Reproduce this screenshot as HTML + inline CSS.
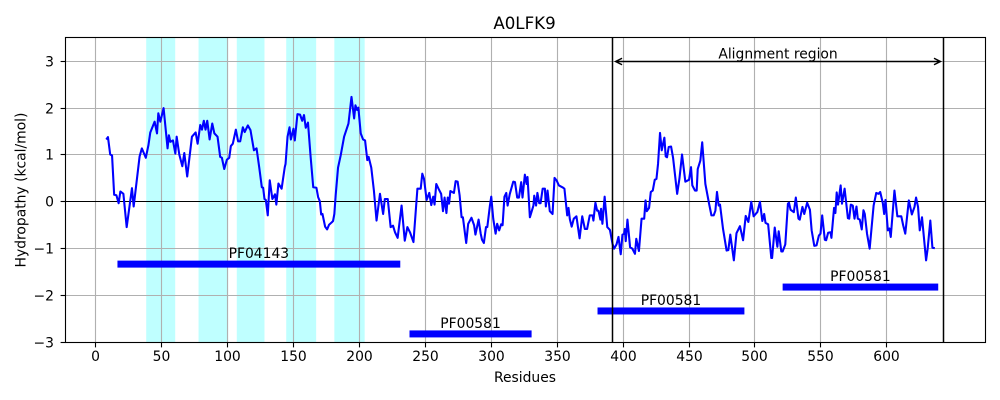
<!DOCTYPE html>
<html>
<head>
<meta charset="utf-8">
<title>A0LFK9</title>
<style>
html,body{margin:0;padding:0;background:#fff;}
svg{display:block;}
text{font-family:"DejaVu Sans","Liberation Sans",sans-serif;fill:#000;}
</style>
</head>
<body>
<svg id="chart" xmlns="http://www.w3.org/2000/svg" width="1000" height="400" viewBox="0 0 1000 400"></svg>
<script>
const residues = [8,9.3,11,12.4,14,15.7,17.4,18.7,21,23.5,27.5,28.8,33.3,35,38,40,41.4,44.7,46.5,47.5,49,51.5,54.5,55.5,56.6,58.6,60.4,61.4,63.4,65.7,67.2,69.4,73,75.8,77.3,79.3,80.6,82,83.3,84.6,86.4,88.4,90,92.4,94.4,95.7,97.5,99.5,101.3,102.5,104,106.3,108,109.6,111.6,113,115.4,117.4,120,122,124,126,127,128,129,130.5,132,134,136,137,138.6,141,143.4,144,145.5,147,148,150,151,153,155,156.6,158,159.3,161,163,165,167.4,168.7,170,171,172,174,175.5,177,179,180,181,182,183.8,185.8,188.4,191.7,194,196,197,198.2,199.2,201,202.8,204.3,206,207,209,211,213,215.6,218,219.3,221.5,223.7,225.5,227,229,232,234.4,236.4,238.5,241,244,246.5,247.7,249,251,253,254.5,256,257,258.3,260,262,263.4,264.6,266,267,268,269,271.7,273,274.5,276,277.5,278.5,281,282.5,285,287,288,290.4,292,293,294.4,296,297,299,300,301.5,303.3,304.5,306,307.5,308.6,310,311.4,312.4,314,316.7,318,319.7,321,322.7,323.7,325.5,326.8,327.5,329.3,332,332.6,334,335,336.4,337.4,339,340.7,341.4,342.7,344.4,346.5,348,349.5,351.3,354,355.5,357.6,358.6,359.6,361,362.6,364.6,367,369,371,372.7,374.7,376.8,377.5,379,380.3,381.3,382.8,383.3,384.3,386,388,390,392,393.2,395,396.5,398.2,399.5,400.8,401.3,402,403.3,405.3,407,409,410,412,414,416,417,418,419.7,421,422.5,424,425.3,426.5,428,429.3,431.3,432.3,433.3,434.6,436.4,437.9,441,442.7,444.7,447.2,450,451.5,452.5,454.5,455.8,456.6,458.6,460,462.4,465.2,467,468.7,470,471.2,472.5,473.5,475.8,478.5,479.8,481.3,484,486,488.6,491,493,495,497.2,499,501.8,503.8,505.6,507,508,510,512.4,513,515,517,518,520,521,523,525,525.8,527,529.5,531,533,534,536,537.4,539.6,541.7,543,545,546.7,548.5,549.7,551,553,554,555.5,557.3,558,560,561,562,563,565,566,568,570.5,571.5,572.7,574.2,575.5,577,578,579.5,581,582.3,583.3,585,587,590,592,593.7,595,597,598,599,600.8,602,603,605.8,608,611,612.4,614,616.7,619,621,622.2,623.7,625,626.7,629.8,631,633,634.6,636.4];
const hydropathy = [1.33,1.38,1.01,0.99,0.15,0.14,-0.03,0.22,0.17,-0.54,0.29,-0.1,0.97,1.14,0.94,1.21,1.48,1.71,1.46,1.89,1.71,2.0,1.14,1.42,1.28,1.31,1.03,1.39,1.01,0.76,1.04,0.54,1.39,1.48,1.24,1.64,1.54,1.73,1.54,1.73,1.33,1.67,1.46,1.39,0.96,0.94,0.7,0.9,0.94,1.19,1.24,1.54,1.29,1.29,1.59,1.49,1.63,1.53,1.1,1.14,0.74,0.31,0.3,0.06,0.04,-0.29,0.46,0.06,0.16,-0.06,0.39,0.28,0.74,0.81,1.39,1.59,1.33,1.56,1.31,1.87,1.86,1.73,1.85,1.58,1.69,0.96,0.31,0.3,0.1,0.01,-0.27,-0.26,-0.53,-0.59,-0.49,-0.44,-0.41,-0.26,0.14,0.73,0.99,1.39,1.67,2.24,1.78,2.06,1.96,2.01,1.46,1.33,1.31,0.89,0.96,0.73,0.24,-0.4,0.17,-0.26,0.06,0.06,-0.54,-0.51,-0.65,-0.77,-0.08,-0.83,-0.54,-0.66,-0.86,0.28,0.28,0.6,0.49,0.04,0.19,-0.07,0.11,-0.06,0.38,0.28,0.17,-0.2,0.09,-0.24,0.09,-0.04,0.23,0.19,0.44,0.43,0.14,-0.33,-0.33,-0.88,-0.47,-0.34,-0.5,-0.7,-0.38,-0.68,-0.81,-0.88,-0.54,-0.54,-0.08,0.11,-0.36,-0.68,-0.47,-0.61,-0.48,-0.5,0.11,0.19,-0.08,0.16,0.43,0.42,0.09,0.09,0.42,0.09,0.58,0.38,0.53,-0.33,-0.08,0.13,-0.08,0.19,-0.03,-0.03,0.28,0.28,-0.1,0.24,-0.2,-0.26,0.51,0.46,0.35,0.31,0.28,-0.29,-0.13,-0.37,-0.53,-0.36,-0.31,-0.78,-0.31,-0.58,-0.58,-0.29,-0.29,-0.4,-0.02,-0.19,-0.19,-0.38,-0.15,-0.47,0.11,-0.54,-0.6,-0.9,-1.0,-0.91,-0.75,-1.12,-0.7,-0.68,-0.58,-0.84,-0.38,-0.97,-1.0,-1.11,-0.79,-1.05,-0.36,-0.36,0.03,-0.2,-0.13,0.21,0.24,0.47,0.49,0.81,1.47,1.1,1.37,0.97,0.95,1.17,1.18,0.94,0.17,0.49,1.01,0.43,0.47,0.74,0.35,0.24,0.24,0.7,0.88,1.27,0.38,-0.04,-0.29,-0.29,-0.19,0.21,-0.08,-0.06,-0.58,-1.04,-1.03,-0.7,-1.25,-0.67,-0.52,-0.82,-0.3,-0.43,0,-0.31,-0.22,0,-0.41,-0.26,-0.45,-0.48,-1.2,-1.2,-0.55,-0.96,-0.63,-1.06,-1.06,-0.91,-0.04,-0.02,-0.17,-0.22,0.09,-0.36,-0.38,-0.11,-0.26,-0.02,-0.17,-0.61,-0.94,-0.93,-0.72,-0.68,-0.29,-0.81,-0.82,-0.66,-0.65,-0.77,-0.13,-0.24,0.2,-0.06,0.35,-0.04,0.28,-0.35,-0.36,-0.06,-0.08,-0.36,-0.1,-0.36,-0.38,-0.59,-0.18,-0.26,-0.68,-1.0,-0.08,0.19,0.17,0.21,-0.03,-0.26,0.04,-0.61,-0.57,-0.75,0.24,-0.31,-0.31,-0.5,-0.68,0.03,-0.27,-0.11,0.09,-0.11,-0.61,-0.33,-1.25,-1.0,-0.4,-0.98,-0.99];
const xTicks = [0,50,100,150,200,250,300,350,400,450,500,550,600];
const yTicks = [-3,-2,-1,0,1,2,3];
const helixStarts = [38.3,78,107,144.5,181];
const helixEnds = [60.3,100.5,128,167.2,204];
const domainNames = ["PF04143","PF00581","PF00581","PF00581"];
const domainStarts = [16.5,238,380.6,521];
const domainEnds = [231,330.6,492,639];
const domainLevels = [-1.33,-2.82,-2.33,-1.82];
const alignmentStart = 392;
const alignmentEnd = 643;
const alignmentLevel = 3;

const plot = {left:65.5, right:985.5, top:38, bottom:342.5};
const xScale = v => 95.7 + 1.3185 * v;
const yScale = v => 201.8 - 46.85 * v;
const snap = p => Math.floor(p) + 0.5;
const svg = document.getElementById('chart');
const NS = 'http://www.w3.org/2000/svg';
function make(tag, attrs, txt) {
  const el = document.createElementNS(NS, tag);
  for (const k in attrs) el.setAttribute(k, attrs[k]);
  if (txt !== undefined) el.textContent = txt;
  svg.appendChild(el);
  return el;
}
let el;

helixStarts.forEach((s, i) => {
  el = make('rect', {x:xScale(s), y:plot.top, width:xScale(helixEnds[i])-xScale(s), height:plot.bottom-plot.top, fill:'#bfffff'});
  
  
});

xTicks.forEach(t => {
  const px = snap(xScale(t));
  el = make('line', {x1:px, x2:px, y1:plot.top, y2:plot.bottom, stroke:'#b0b0b0', 'stroke-width':1.11});
  
  
  el = make('line', {x1:px, x2:px, y1:plot.bottom, y2:plot.bottom+4.9, stroke:'#000', 'stroke-width':1.11});
  
  
  el = make('text', {x:px, y:361, 'text-anchor':'middle', 'font-size':'13.89px'}, String(t));
  
  
});

yTicks.forEach(t => {
  const py = snap(yScale(t));
  el = make('line', {x1:plot.left, x2:plot.right, y1:py, y2:py, stroke:'#b0b0b0', 'stroke-width':1.11});
  
  
  el = make('line', {x1:plot.left-4.9, x2:plot.left, y1:py, y2:py, stroke:'#000', 'stroke-width':1.11});
  
  
  el = make('text', {x:54, y:py+5, 'text-anchor':'end', 'font-size':'13.89px'}, String(t).replace('-', '\u2212'));
  
  
});

el = make('line', {x1:plot.left, x2:plot.right, y1:snap(yScale(0)), y2:snap(yScale(0)), stroke:'#000', 'stroke-width':1.11});



el = make('polyline', {points:residues.map((r, i) => xScale(r).toFixed(2) + ',' + yScale(hydropathy[i]).toFixed(2)).join(' '), fill:'none', stroke:'#0000ff', 'stroke-width':2.08, 'stroke-linejoin':'round'});



domainNames.forEach((n, i) => {
  el = make('rect', {x:xScale(domainStarts[i]), y:yScale(domainLevels[i])-3.5, width:xScale(domainEnds[i])-xScale(domainStarts[i]), height:7, fill:'#0000ff'});
  
  
  el = make('text', {x:(xScale(domainStarts[i])+xScale(domainEnds[i]))/2, y:yScale(domainLevels[i])-6, 'text-anchor':'middle', 'font-size':'13.89px'}, n);
  
  
});

[alignmentStart, alignmentEnd].forEach((r, i) => {
  const px = snap(xScale(r));
  el = make('line', {x1:px, x2:px, y1:plot.top, y2:plot.bottom, stroke:'#000', 'stroke-width':1.5});
  
  
});

const ax1 = xScale(alignmentStart) + 3;
const ax2 = xScale(alignmentEnd) - 3;
const ay = snap(yScale(alignmentLevel));
el = make('path', {d:`M${ax1} ${ay}H${ax2}M${ax1+6.5} ${ay-3.2}L${ax1} ${ay}L${ax1+6.5} ${ay+3.2}M${ax2-6.5} ${ay-3.2}L${ax2} ${ay}L${ax2-6.5} ${ay+3.2}`, fill:'none', stroke:'#000', 'stroke-width':1.4});



el = make('text', {x:(ax1+ax2)/2, y:ay-3, 'text-anchor':'middle', 'font-size':'13.89px'}, 'Alignment region');



el = make('rect', {x:plot.left, y:plot.top-0.5, width:plot.right-plot.left, height:plot.bottom-plot.top+0.5, fill:'none', stroke:'#000', 'stroke-width':1.11});



el = make('text', {x:524.5, y:29, 'text-anchor':'middle', 'font-size':'16.67px'}, 'A0LFK9');



el = make('text', {x:525, y:382, 'text-anchor':'middle', 'font-size':'13.89px'}, 'Residues');



el = make('text', {x:0, y:0, transform:'translate(25.5 190) rotate(-90)', 'text-anchor':'middle', 'font-size':'13.89px'}, 'Hydropathy (kcal/mol)');


</script>
</body>
</html>
